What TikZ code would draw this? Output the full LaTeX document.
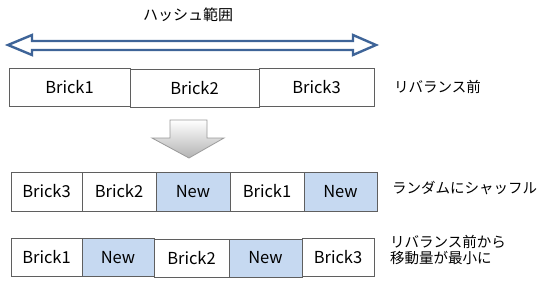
\documentclass[tikz,border=0pt]{standalone}
\usepackage{fontspec}
\setmainfont{Noto Sans CJK JP}
\definecolor{boxline}{HTML}{5F5F5F}
\definecolor{newfill}{HTML}{C6D9F1}
\definecolor{hashline}{HTML}{3E6498}
\begin{document}
\begin{tikzpicture}[
        x=1pt, y=-1pt,
        brick/.style={draw=boxline, line width=0.9pt, fill=white, minimum height=38pt, inner sep=0pt, outer sep=0pt, font=\fontsize{16.5}{18}\selectfont},
        newbrick/.style={brick, fill=newfill},
        note/.style={anchor=west, inner sep=0pt, font=\fontsize{14.5}{15.5}\selectfont, align=left},
      ]
        \useasboundingbox (0,0) rectangle (541,289);

        % hash range
        \node[font=\fontsize{15}{18}\selectfont] (hash) at (188, 15) {ハッシュ範囲};
        \draw[hashline, line width=2.4pt, fill=white, line join=miter]
          (8,45) -- (32,35) -- (32,41) -- (353,41) -- (353,35) -- (376,45)
          -- (353,55) -- (353,50) -- (32,50) -- (32,55) -- cycle;

        % before rebalance
        \node[brick, minimum width=121pt] (b1) at (69.5, 87) {Brick1};
        \node[brick, minimum width=129pt] (b2) at (194.5, 88) {Brick2};
        \node[brick, minimum width=115pt] (b3) at (316.5, 87.5) {Brick3};
        \node[note] (before) at (394, 87) {リバランス前};

        % down arrow
        \shade[top color=white, bottom color=black!30, draw=black!40, line width=0.8pt]
          (170,120) -- (207,120) -- (207,138) -- (224,138) -- (189,158)
          -- (152,138) -- (170,138) -- cycle;

        % random shuffle
        \node[brick, minimum width=71pt, minimum height=39pt] (s1) at (46.5, 191.5) {Brick3};
        \node[brick, minimum width=74pt, minimum height=39pt] (s2) at (119, 191.5) {Brick2};
        \node[newbrick, minimum width=74pt, minimum height=39pt] (s3) at (193, 191.5) {New};
        \node[brick, minimum width=74pt, minimum height=39pt] (s4) at (267, 191.5) {Brick1};
        \node[newbrick, minimum width=73pt, minimum height=39pt] (s5) at (340.5, 191.5) {New};
        \node[note] (shuffle) at (392, 188) {ランダムにシャッフル};

        % minimal movement
        \node[brick, minimum width=71pt] (m1) at (46.5, 257) {Brick1};
        \node[newbrick, minimum width=72pt] (m2) at (118, 257.5) {New};
        \node[brick, minimum width=75pt] (m3) at (191.5, 258.5) {Brick2};
        \node[newbrick, minimum width=73pt] (m4) at (265.5, 258) {New};
        \node[brick, minimum width=72pt] (m5) at (338, 257.5) {Brick3};
        \node[note] (minimal) at (390, 250) {リバランス前から\\移動量が最小に};
      \end{tikzpicture}
\end{document}
